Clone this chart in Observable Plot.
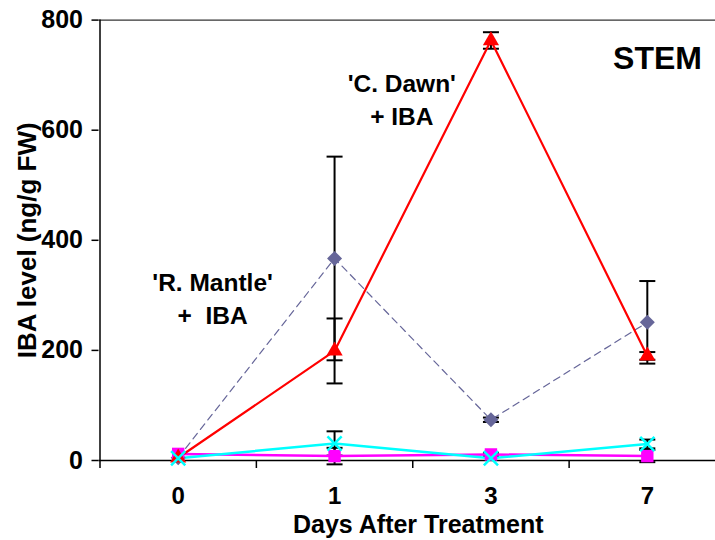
<!DOCTYPE html>
<html>
<head>
<meta charset="utf-8">
<script src="https://cdn.jsdelivr.net/npm/d3@7"></script>
<script src="https://cdn.jsdelivr.net/npm/@observablehq/plot@0.6"></script>
<style>
  html, body { margin: 0; padding: 0; background: #fff; }
</style>
</head>
<body>
<div id="chart"></div>
<script>
// ---- data ----
const days = ["0", "1", "3", "7"];
const yTicks = [0, 200, 400, 600, 800];

const rmIba = [5, 367, 74, 251];      // 'R. Mantle' + IBA (diamonds, dashed)
const rmIbaErr = [0, 185, 4, 75];
const rmCtl = [12, 8, 11, 8];         // magenta squares
const rmCtlErr = [0, 15, 3, 11];
const cdIba = [5, 199, 763, 190];     // 'C. Dawn' + IBA (red triangles)
const cdIbaErr = [0, 59, 15, 7];
const cdCtl = [4, 31, 4, 30];         // cyan crosses
const cdCtlErr = [0, 22, 0, 8];

const labels = [
  {text: "'C. Dawn'", x: 1.43, y: 683, size: 24.5},
  {text: "+ IBA", x: 1.43, y: 623, size: 24.5},
  {text: "'R. Mantle'", x: 0.22, y: 322, size: 24.5},
  {text: "+  IBA", x: 0.22, y: 262, size: 24.5},
  {text: "STEM", x: 3.065, y: 730, size: 32}
];

// ---- build tables ----
const series = [
  {key: "rmIba", values: rmIba, errs: rmIbaErr},
  {key: "rmCtl", values: rmCtl, errs: rmCtlErr},
  {key: "cdIba", values: cdIba, errs: cdIbaErr},
  {key: "cdCtl", values: cdCtl, errs: cdCtlErr}
];
const rows = series.flatMap(s => days.map((d, i) => ({series: s.key, i, day: d, v: s.values[i], e: s.errs[i]})));
const bars = rows.filter(d => d.e > 0);
const of = k => rows.filter(d => d.series === k);

const idx = days.map((d, i) => i);
const bounds = [-0.5, ...idx.map(i => i + 0.5)];

const capSymbol = {
  draw(context, size) {
    const w = Math.sqrt(size / Math.PI);
    context.moveTo(-w, 0);
    context.lineTo(w, 0);
  }
};

const font = "'Liberation Sans', Arial, sans-serif";

const chart = Plot.plot({
  width: 715,
  height: 540,
  marginLeft: 98.5,
  marginRight: 0,
  marginTop: 19.6,
  marginBottom: 80,
  style: {fontFamily: font, background: "#fff", color: "#000"},
  x: {type: "linear", domain: [-0.5, days.length - 0.5], range: [99.5, 725]},
  y: {domain: [0, 800]},
  marks: [
    // frame lines
    Plot.ruleY([800], {stroke: "#000", strokeWidth: 1}),
    Plot.ruleX([-0.5], {stroke: "#000", strokeWidth: 1.5}),
    // axes
    Plot.axisY({ticks: yTicks, tickSize: 7, tickPadding: 9, fontSize: 25, fontWeight: "bold", label: null, strokeWidth: 1.5}),
    Plot.axisX({ticks: bounds, tickSize: 8, tickFormat: () => "", label: null, strokeWidth: 1.5}),
    Plot.axisX({ticks: idx, tickSize: 0, tickPadding: 26, tickFormat: i => days[i], fontSize: 24, fontWeight: "bold", label: null}),
    Plot.text(["IBA level (ng/g FW)"], {frameAnchor: "left", rotate: -90, dx: -71.5, textAnchor: "middle", lineAnchor: "middle", fontSize: 26, fontWeight: "bold"}),
    Plot.text(["Days After Treatment"], {frameAnchor: "bottom", dx: 11, dy: 64, textAnchor: "middle", lineAnchor: "middle", fontSize: 25, fontWeight: "bold"}),
    Plot.ruleY([0], {stroke: "#000", strokeWidth: 1.5}),
    // error bars
    Plot.ruleX(bars, {x: "i", y1: d => d.v - d.e, y2: d => d.v + d.e, stroke: "#000", strokeWidth: 2}),
    Plot.dot(bars, {x: "i", y: d => d.v + d.e, symbol: capSymbol, r: 8, fill: "none", stroke: "#000", strokeWidth: 2}),
    Plot.dot(bars, {x: "i", y: d => d.v - d.e, symbol: capSymbol, r: 8, fill: "none", stroke: "#000", strokeWidth: 2}),
    // lines
    Plot.line(of("rmIba"), {x: "i", y: "v", stroke: "#666699", strokeWidth: 1.2, strokeDasharray: "7,5"}),
    Plot.line(of("rmCtl"), {x: "i", y: "v", stroke: "#FF00FF", strokeWidth: 2.5}),
    Plot.line(of("cdIba"), {x: "i", y: "v", stroke: "#FF0000", strokeWidth: 2.2}),
    Plot.line(of("cdCtl"), {x: "i", y: "v", stroke: "#00FFFF", strokeWidth: 2.5}),
    // markers
    Plot.dot(of("rmIba"), {x: "i", y: "v", symbol: "square", r: 6, rotate: 45, fill: "#666699", stroke: "none"}),
    Plot.dot(of("rmCtl"), {x: "i", y: "v", symbol: "square", r: 7, fill: "#FF00FF", stroke: "none"}),
    Plot.dot(of("cdIba"), {x: "i", y: "v", symbol: "triangle", r: 6, fill: "#FF0000", stroke: "none"}),
    Plot.dot(of("cdCtl"), {x: "i", y: "v", symbol: "times", r: 6.5, fill: "none", stroke: "#00FFFF", strokeWidth: 2.5}),
    // annotations
    Plot.text(labels, {x: "x", y: "y", text: "text", fontSize: d => d.size, fontWeight: "bold", textAnchor: "middle", lineAnchor: "middle", fill: "#000"})
  ]
});
document.getElementById("chart").appendChild(chart);
</script>
</body>
</html>
